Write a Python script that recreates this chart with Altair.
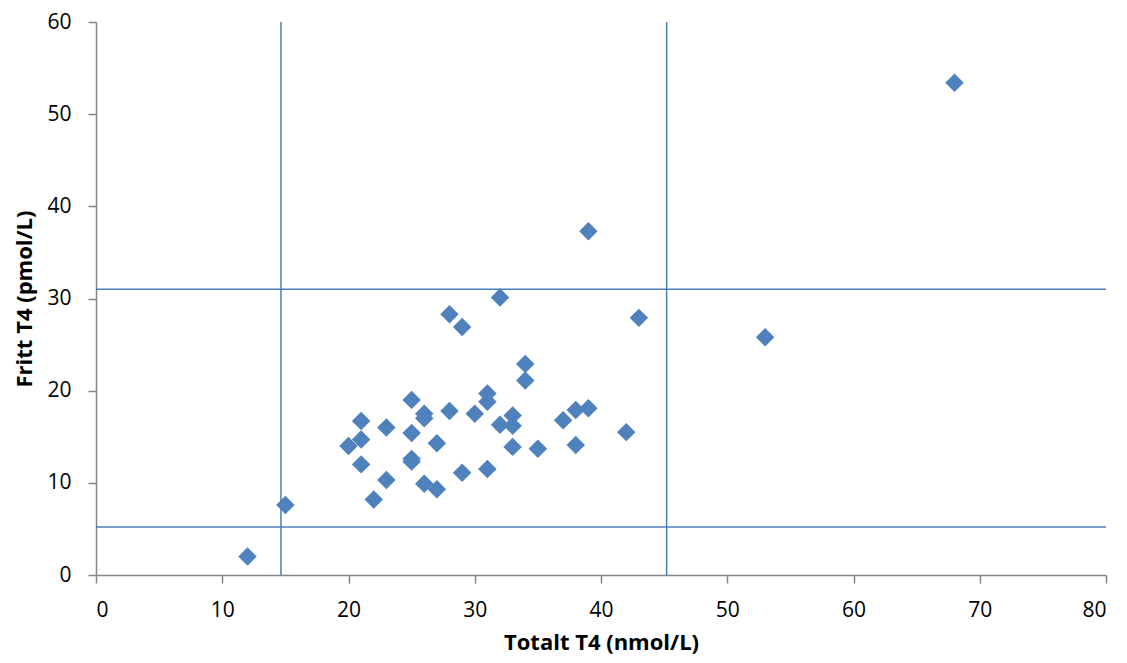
import altair as alt
import pandas as pd

total_t4 = [12, 15, 20, 21, 21, 21, 22, 23, 23, 25, 25, 25, 25, 26, 26, 26, 27, 27, 28, 28,
            29, 29, 30, 31, 31, 31, 32, 32, 33, 33, 33, 34, 34, 35, 37, 38, 38, 39, 39, 42,
            43, 53, 68]
fritt_t4 = [2.0, 7.6, 14.0, 16.7, 14.7, 12.0, 8.2, 16.0, 10.3, 19.0, 15.4, 12.6, 12.3, 17.5, 17.0, 9.9, 14.3, 9.3, 28.3, 17.8,
            26.9, 11.1, 17.5, 19.7, 18.8, 11.5, 30.1, 16.3, 17.3, 16.2, 13.9, 22.9, 21.1, 13.7, 16.8, 17.9, 14.1, 18.1, 37.3, 15.5,
            27.9, 25.8, 53.4]

v_lines = [14.65, 45.2]
h_lines = [31.0, 5.2]

x_ticks = [0, 10, 20, 30, 40, 50, 60, 70, 80]
y_ticks = [0, 10, 20, 30, 40, 50, 60]

df = pd.DataFrame({"x": total_t4, "y": fritt_t4})
dv = pd.DataFrame({"v": v_lines})
dh = pd.DataFrame({"h": h_lines})

FONT = "Open Sans"
LINE_COLOR = "#4a7ebb"

xscale = alt.Scale(domain=[0, 80], nice=False, zero=True)
yscale = alt.Scale(domain=[0, 60], nice=False, zero=True)

points = alt.Chart(df).mark_point(
    shape="diamond", filled=True, size=340, color="#4f81bd", opacity=1
).encode(
    x=alt.X("x:Q", scale=xscale,
            axis=alt.Axis(title="Totalt T4 (nmol/L)", values=x_ticks,
                          grid=False, tickSize=8, labelPadding=16,
                          titleBaseline="alphabetic", titleY=74)),
    y=alt.Y("y:Q", scale=yscale,
            axis=alt.Axis(title="Fritt T4 (pmol/L)", values=y_ticks,
                          grid=False, tickSize=8, labelPadding=17, titlePadding=10)),
)

vrules = alt.Chart(dv).mark_rule(color=LINE_COLOR, strokeWidth=1.5).encode(
    x=alt.X("v:Q", scale=xscale)
)
hrules = alt.Chart(dh).mark_rule(color=LINE_COLOR, strokeWidth=1.5).encode(
    y=alt.Y("h:Q", scale=yscale)
)

chart = alt.layer(vrules, hrules, points).properties(
    width=1010, height=553,
    autosize=alt.AutoSizeParams(type="none"),
    padding={"left": 88, "top": 14, "right": 13, "bottom": 80},
).configure_view(stroke=None).configure_axis(
    domainColor="#868686", tickColor="#868686", domainWidth=1.5, tickWidth=1.5,
    labelFont=FONT, labelFontSize=21, labelColor="#000000",
    titleFont=FONT, titleFontSize=22, titleFontWeight="bold", titleColor="#000000",
)

chart.save("out.html", embed_options={"renderer": "svg", "actions": False})
